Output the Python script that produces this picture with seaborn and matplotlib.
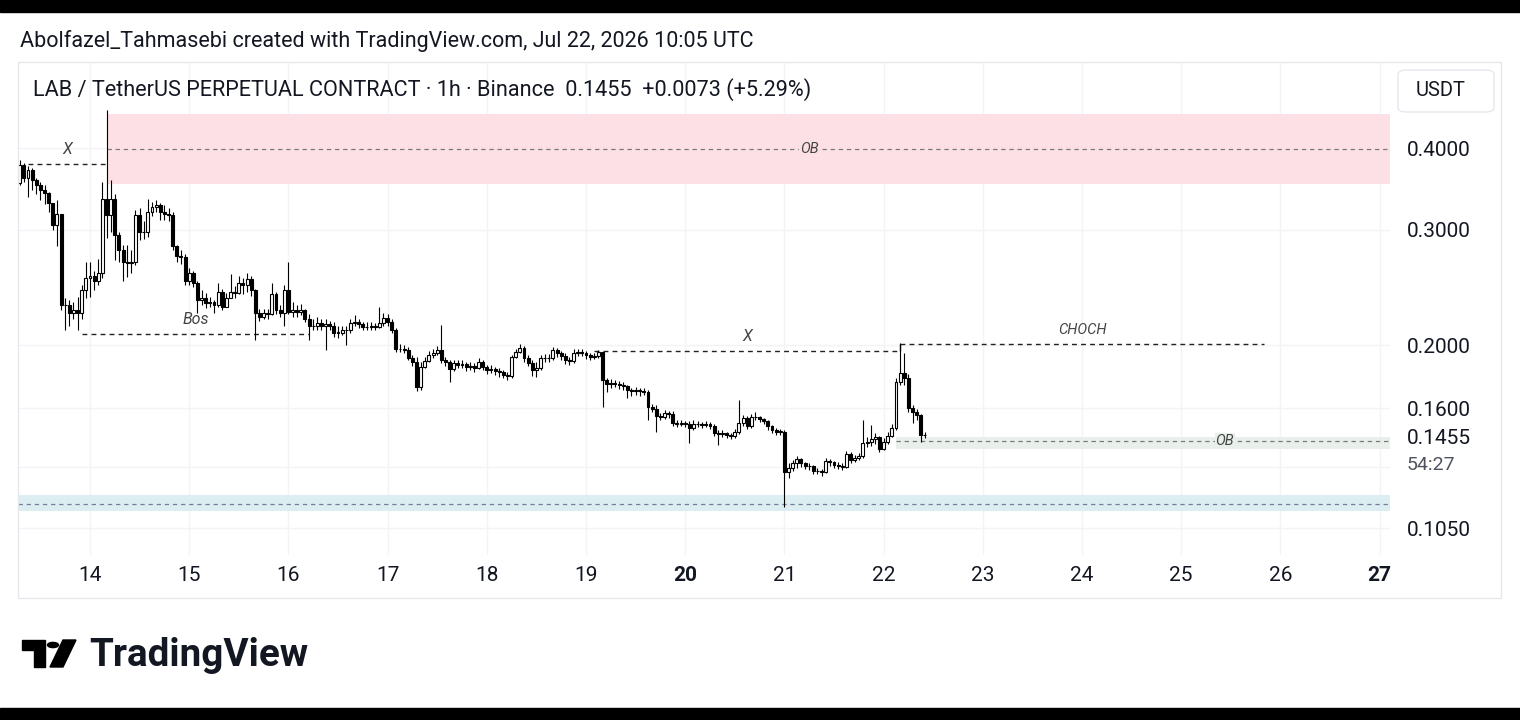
import numpy as np
import pandas as pd
import matplotlib
matplotlib.use("Agg")
import matplotlib.pyplot as plt
import matplotlib.dates as mdates
from matplotlib.patches import Rectangle, FancyBboxPatch, Polygon, Circle
from matplotlib.ticker import NullLocator
import seaborn as sns

sns.set_theme(style="white")
plt.rcParams['font.family'] = ['Roboto', 'DejaVu Sans']

# hourly candles, LAB/USDT perp, starting Jul 13 07:00 UTC
start = "2026-07-13 07:00"
first_open = 0.354
closes = [
    0.377, 0.360, 0.370, 0.358, 0.351, 0.345, 0.341, 0.330, 0.305, 0.317,
    0.230, 0.230, 0.224, 0.226, 0.224, 0.243, 0.253, 0.255, 0.251, 0.258,
    0.335, 0.316, 0.335, 0.295, 0.279, 0.268, 0.267, 0.268, 0.316, 0.298,
    0.298, 0.319, 0.325, 0.328, 0.319, 0.317, 0.316, 0.283, 0.274, 0.273,
    0.251, 0.258, 0.249, 0.234, 0.236, 0.232, 0.233, 0.230, 0.241, 0.229,
    0.236, 0.241, 0.240, 0.249, 0.247, 0.252, 0.243, 0.224, 0.221, 0.224,
    0.223, 0.239, 0.226, 0.224, 0.243, 0.225, 0.226, 0.225, 0.226, 0.219,
    0.214, 0.214, 0.216, 0.214, 0.215, 0.214, 0.209, 0.209, 0.211, 0.211,
    0.216, 0.217, 0.215, 0.213, 0.213, 0.214, 0.213, 0.216, 0.220, 0.217,
    0.211, 0.1972, 0.1972, 0.1965, 0.1910, 0.1884, 0.1725, 0.1851, 0.1890, 0.1931,
    0.1944, 0.1965, 0.1897, 0.1884, 0.1838, 0.1877, 0.1864, 0.1871, 0.1851, 0.1858,
    0.1844, 0.1884, 0.1851, 0.1831, 0.1838, 0.1825, 0.1818, 0.1799, 0.1793, 0.1917,
    0.1951, 0.1979, 0.1910, 0.1877, 0.1831, 0.1844, 0.1910, 0.1910, 0.1910, 0.1965,
    0.1944, 0.1924, 0.1897, 0.1890, 0.1944, 0.1951, 0.1944, 0.1931, 0.1917, 0.1924,
    0.1951, 0.1768, 0.1743, 0.1749, 0.1743, 0.1737, 0.1731, 0.1707, 0.1701, 0.1707,
    0.1701, 0.1695, 0.1608, 0.1597, 0.1558, 0.1552, 0.1574, 0.1569, 0.1520, 0.1515,
    0.1520, 0.1515, 0.1494, 0.1515, 0.1515, 0.1509, 0.1515, 0.1504, 0.1467, 0.1462,
    0.1467, 0.1457, 0.1452, 0.1473, 0.1520, 0.1547, 0.1504, 0.1552, 0.1552, 0.1541,
    0.1531, 0.1504, 0.1483, 0.1473, 0.1473, 0.1279, 0.1297, 0.1320, 0.1339, 0.1320,
    0.1306, 0.1306, 0.1283, 0.1283, 0.1279, 0.1330, 0.1325, 0.1311, 0.1306, 0.1302,
    0.1363, 0.1334, 0.1344, 0.1353, 0.1416, 0.1421, 0.1437, 0.1447, 0.1387, 0.1421,
    0.1452, 0.1494, 0.1755, 0.1812, 0.1780, 0.1602, 0.1580, 0.1563, 0.1457, 0.1455,
]
highs = [
    0.384, 0.380, 0.376, 0.373, 0.360, 0.355, 0.351, 0.343, 0.328, 0.333,
    0.302, 0.236, 0.234, 0.233, 0.237, 0.247, 0.268, 0.268, 0.260, 0.271,
    0.355, 0.457, 0.358, 0.340, 0.298, 0.284, 0.284, 0.279, 0.322, 0.324,
    0.309, 0.335, 0.331, 0.333, 0.330, 0.328, 0.324, 0.319, 0.284, 0.279,
    0.276, 0.262, 0.260, 0.251, 0.243, 0.240, 0.237, 0.234, 0.249, 0.244,
    0.240, 0.257, 0.246, 0.255, 0.253, 0.258, 0.255, 0.244, 0.227, 0.227,
    0.227, 0.249, 0.241, 0.230, 0.247, 0.268, 0.233, 0.230, 0.231, 0.227,
    0.223, 0.219, 0.221, 0.219, 0.219, 0.218, 0.217, 0.214, 0.214, 0.214,
    0.219, 0.222, 0.219, 0.217, 0.217, 0.217, 0.216, 0.229, 0.224, 0.223,
    0.219, 0.212, 0.2007, 0.2000, 0.1986, 0.1931, 0.1917, 0.1884, 0.1917, 0.1958,
    0.1972, 0.1993, 0.2146, 0.1917, 0.1897, 0.1897, 0.1897, 0.1897, 0.1884, 0.1884,
    0.1877, 0.1910, 0.1897, 0.1864, 0.1864, 0.1851, 0.1844, 0.1831, 0.1818, 0.1931,
    0.1972, 0.2007, 0.1993, 0.1931, 0.1897, 0.1884, 0.1931, 0.1938, 0.1938, 0.1986,
    0.1979, 0.1958, 0.1944, 0.1917, 0.1972, 0.1972, 0.1972, 0.1958, 0.1944, 0.1944,
    0.1965, 0.1951, 0.1780, 0.1774, 0.1768, 0.1762, 0.1755, 0.1737, 0.1719, 0.1725,
    0.1719, 0.1719, 0.1707, 0.1625, 0.1619, 0.1574, 0.1591, 0.1585, 0.1585, 0.1536,
    0.1536, 0.1531, 0.1531, 0.1536, 0.1531, 0.1525, 0.1531, 0.1525, 0.1515, 0.1483,
    0.1483, 0.1473, 0.1467, 0.1488, 0.1648, 0.1563, 0.1558, 0.1569, 0.1580, 0.1558,
    0.1547, 0.1536, 0.1509, 0.1494, 0.1488, 0.1483, 0.1320, 0.1334, 0.1353, 0.1344,
    0.1325, 0.1320, 0.1311, 0.1297, 0.1293, 0.1344, 0.1339, 0.1330, 0.1325, 0.1320,
    0.1377, 0.1372, 0.1358, 0.1367, 0.1536, 0.1447, 0.1509, 0.1467, 0.1452, 0.1442,
    0.1473, 0.1515, 0.1780, 0.2014, 0.1944, 0.1805, 0.1619, 0.1597, 0.1569, 0.1473,
]
lows = [
    0.351, 0.355, 0.337, 0.345, 0.340, 0.333, 0.329, 0.319, 0.300, 0.283,
    0.226, 0.211, 0.214, 0.219, 0.211, 0.219, 0.236, 0.237, 0.243, 0.247,
    0.253, 0.292, 0.298, 0.270, 0.268, 0.251, 0.254, 0.258, 0.265, 0.289,
    0.291, 0.293, 0.315, 0.319, 0.311, 0.311, 0.309, 0.279, 0.268, 0.266,
    0.247, 0.247, 0.245, 0.224, 0.230, 0.228, 0.229, 0.224, 0.229, 0.226,
    0.231, 0.236, 0.236, 0.239, 0.239, 0.241, 0.238, 0.2036, 0.218, 0.219,
    0.219, 0.222, 0.223, 0.221, 0.214, 0.223, 0.221, 0.221, 0.222, 0.217,
    0.2036, 0.211, 0.211, 0.211, 0.1965, 0.211, 0.206, 0.205, 0.207, 0.200,
    0.209, 0.214, 0.212, 0.211, 0.211, 0.211, 0.211, 0.212, 0.214, 0.214,
    0.2085, 0.1951, 0.1951, 0.1944, 0.1897, 0.1858, 0.1701, 0.1707, 0.1844, 0.1884,
    0.1910, 0.1931, 0.1877, 0.1858, 0.1755, 0.1825, 0.1844, 0.1844, 0.1825, 0.1831,
    0.1818, 0.1838, 0.1831, 0.1805, 0.1812, 0.1799, 0.1786, 0.1780, 0.1768, 0.1780,
    0.1910, 0.1944, 0.1884, 0.1858, 0.1793, 0.1786, 0.1831, 0.1884, 0.1884, 0.1897,
    0.1917, 0.1897, 0.1871, 0.1864, 0.1877, 0.1924, 0.1924, 0.1904, 0.1897, 0.1904,
    0.1910, 0.1608, 0.1695, 0.1719, 0.1725, 0.1713, 0.1707, 0.1660, 0.1671, 0.1677,
    0.1671, 0.1677, 0.1536, 0.1580, 0.1472, 0.1536, 0.1541, 0.1547, 0.1504, 0.1499,
    0.1504, 0.1499, 0.1416, 0.1483, 0.1499, 0.1494, 0.1499, 0.1488, 0.1452, 0.1406,
    0.1447, 0.1442, 0.1437, 0.1442, 0.1462, 0.1504, 0.1488, 0.1494, 0.1536, 0.1525,
    0.1515, 0.1483, 0.1467, 0.1457, 0.1457, 0.1130, 0.1252, 0.1283, 0.1297, 0.1302,
    0.1293, 0.1288, 0.1270, 0.1270, 0.1261, 0.1274, 0.1306, 0.1297, 0.1293, 0.1288,
    0.1297, 0.1320, 0.1325, 0.1334, 0.1344, 0.1396, 0.1401, 0.1411, 0.1372, 0.1382,
    0.1411, 0.1447, 0.1483, 0.1737, 0.1737, 0.1580, 0.1520, 0.1536, 0.1421, 0.1442,
]

price_ticks = [0.105, 0.13, 0.16, 0.2, 0.3, 0.4]
price_labels = ["0.1050", "", "0.1600", "0.2000", "0.3000", "0.4000"]
day_ticks = list(range(14, 28))
bold_days = [20, 27]

# smart-money annotations
ob_top = (0.3526, 0.451, 0.3995, "2026-07-14 04:00", "2026-07-21 06:00")
ob_low = (0.1387, 0.1447, 0.1426, "2026-07-22 03:00", "2026-07-25 10:30")
support = (0.1115, 0.1179, 0.1143)
levels = [
    ("X", 0.378, "2026-07-13 09:00", "2026-07-14 04:00"),
    ("Bos", 0.2079, "2026-07-13 22:00", "2026-07-16 05:00"),
    ("X", 0.1958, "2026-07-19 02:00", "2026-07-22 04:00"),
    ("CHOCH", 0.2007, "2026-07-22 04:00", "2026-07-25 20:00"),
]

W, H = 1520, 720
fig = plt.figure(figsize=(W / 100, H / 100), dpi=100, facecolor="white")
ax = fig.add_axes([18 / W, 1 - 555 / H, (1390 - 18) / W, (555 - 62) / H])
ax.set_facecolor("white")

df = pd.DataFrame({"close": closes, "high": highs, "low": lows})
df["time"] = pd.date_range(start, periods=len(df), freq="h")
df["open"] = [first_open] + closes[:-1]
df["t"] = mdates.date2num(df["time"])
df["high"] = df[["high", "open", "close"]].max(axis=1)
df["low"] = df[["low", "open", "close"]].min(axis=1)
up = df["close"] >= df["open"]

ax.set_yscale("log")
t0 = mdates.date2num(pd.Timestamp("2026-07-13 06:35"))
t1 = mdates.date2num(pd.Timestamp("2026-07-27 02:31"))
ax.set_xlim(t0, t1)
ax.set_ylim(0.09548, 0.5418)


def tn(s):
    return mdates.date2num(pd.Timestamp(s))


# zones
ax.fill_between([tn(ob_top[3]), t1], ob_top[0], ob_top[1], color="#fde0e5", lw=0, zorder=1)
ax.hlines(ob_top[2], tn(ob_top[3]), t1, colors="#7a7a7a", lw=0.9, linestyles=(0, (3.5, 3)), zorder=2)
ax.text(tn(ob_top[4]), ob_top[2], "OB", ha="center", va="center", fontsize=10.5, style="italic",
        color="#444444", zorder=3, bbox=dict(fc="#fde0e5", ec="none", pad=0.5))

ax.fill_between([tn(ob_low[3]), t1], ob_low[0], ob_low[1], color="#e9f0eb", lw=0, zorder=1)
ax.hlines(ob_low[2], tn(ob_low[3]), t1, colors="#7a7a7a", lw=0.9, linestyles=(0, (3.5, 3)), zorder=2)
ax.text(tn(ob_low[4]), ob_low[2], "OB", ha="center", va="center", fontsize=10.5, style="italic",
        color="#444444", zorder=3, bbox=dict(fc="#e9f0eb", ec="none", pad=0.5))

ax.fill_between([t0, t1], support[0], support[1], color="#ddeef2", lw=0, zorder=1)
ax.hlines(support[2], t0, t1, colors="#6f7f99", lw=0.9, linestyles=(0, (3.5, 3)), zorder=2)

for name, lvl, a, b in levels:
    ax.hlines(lvl, tn(a), tn(b), colors="#222222", lw=1, linestyles=(0, (3.5, 3)), zorder=2)
    mid = (tn(a) + tn(b)) / 2
    ax.annotate(name, (mid, lvl), xytext=(0, 5), textcoords="offset points", ha="center", va="bottom",
                fontsize=10.5 if name == "CHOCH" else 11.5, style="italic", color="#444444")
ax.vlines(tn("2026-07-22 04:00"), 0.1958, 0.2007, colors="#222222", lw=1, zorder=2)

# candles
bw = 0.7 / 24
ax.vlines(df["t"], df["low"], df["high"], colors="black", lw=0.8, zorder=4)
body_lo = df[["open", "close"]].min(axis=1)
body_h = (df["open"] - df["close"]).abs().clip(lower=0.0002)
ax.bar(df["t"][up], body_h[up], bottom=body_lo[up], width=bw, color="white", edgecolor="black",
       linewidth=0.8, zorder=5)
ax.bar(df["t"][~up], body_h[~up], bottom=body_lo[~up], width=bw, color="black", edgecolor="black",
       linewidth=0.8, zorder=5)

# axes
ax.yaxis.tick_right()
ax.set_yticks(price_ticks)
ax.set_yticklabels(price_labels)
ax.yaxis.set_minor_locator(NullLocator())
ax.tick_params(axis="y", length=0, pad=12, labelsize=15, labelcolor="#131722")
ax.set_xticks([tn(f"2026-07-{d:02d}") for d in day_ticks])
ax.set_xticklabels([str(d) for d in day_ticks])
ax.xaxis.set_minor_locator(NullLocator())
ax.tick_params(axis="x", length=0, pad=8, labelsize=15, labelcolor="#131722")
for lab, d in zip(ax.get_xticklabels(), day_ticks):
    if d in bold_days:
        lab.set_fontweight("bold")
ax.grid(True, color="#f3f4f7", lw=1, zorder=0)
for s in ax.spines.values():
    s.set_visible(False)

ax.annotate("0.1455", (1, closes[-1]), xycoords=("axes fraction", "data"), xytext=(12, -2),
            textcoords="offset points", ha="left", va="center", fontsize=15, color="#131722")
ax.annotate("54:27", (1, closes[-1]), xycoords=("axes fraction", "data"), xytext=(12, -21),
            textcoords="offset points", ha="left", va="center", fontsize=14, color="#50535e")

# chrome
fig.add_artist(Rectangle((0, 1 - 12 / H), 1, 12 / H, transform=fig.transFigure, color="black"))
fig.add_artist(Rectangle((0, 0), 1, 12 / H, transform=fig.transFigure, color="black"))
fig.add_artist(Rectangle((18 / W, 1 - 598 / H), (1501 - 18) / W, (598 - 62) / H, transform=fig.transFigure,
                         fill=False, ec="#e6e8ee", lw=1))
fig.text(20 / W, 1 - 41 / H, "Abolfazel_Tahmasebi created with TradingView.com, Jul 22, 2026 10:05 UTC",
         fontsize=15.5, color="#131722", va="center")
fig.text(33 / W, 1 - 90 / H, "LAB / TetherUS PERPETUAL CONTRACT · 1h · Binance  0.1455  +0.0073 (+5.29%)",
         fontsize=15.6, color="#131722", va="center")
fig.add_artist(FancyBboxPatch((1398 / W, 1 - 112 / H), 96 / W, 42 / H, boxstyle="round,pad=0,rounding_size=0.006",
                              transform=fig.transFigure, fc="white", ec="#e6e8ee", lw=1))
fig.text(1441 / W, 1 - 91 / H, "USDT", fontsize=14.5, color="#131722", ha="center", va="center")

# TradingView logo
def px(x, y):
    return (x / W, 1 - y / H)


fig.add_artist(Polygon([px(22, 640), px(45, 640), px(45, 667), px(34, 667), px(34, 650), px(22, 650)],
                       closed=True, transform=fig.transFigure, color="black"))
fig.add_artist(Circle(px(53, 645), 5.5 / W, transform=fig.transFigure, color="black"))
fig.add_artist(Polygon([px(63, 640), px(76, 640), px(63, 667), px(50, 667)],
                       closed=True, transform=fig.transFigure, color="black"))
fig.text(89 / W, 1 - 655 / H, "TradingView", fontsize=27.8, fontweight="bold", color="#131722", va="center")

fig.savefig("out.png", dpi=100, facecolor="white")
